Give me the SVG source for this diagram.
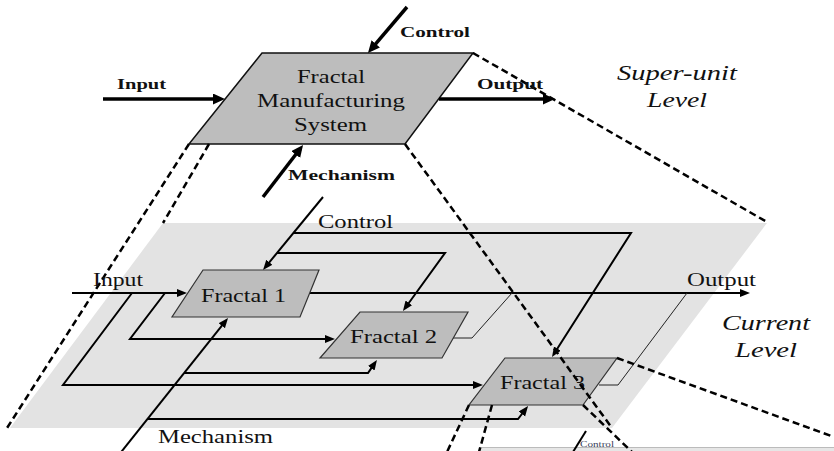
<svg xmlns="http://www.w3.org/2000/svg" width="834" height="451" viewBox="0 0 834 451">
  <defs>
    <style>
      .lbl{font-family:"Liberation Serif","Times New Roman",serif;fill:#111}
      .b{font-weight:bold;font-size:15px}
      .n{font-size:18.5px}
      .i{font-style:italic;font-size:21px}
      .sys{font-size:19px}
      .thick{stroke:#000;stroke-width:3.5;fill:none}
      .flow{stroke:#000;stroke-width:2;fill:none}
      .thin{stroke:#222;stroke-width:1;fill:none}
      .dash{stroke:#000;stroke-width:2.5;fill:none;stroke-dasharray:7 4}
      .node{fill:#bdbdbd;stroke:#333;stroke-width:1.2}
      .plane{fill:#e3e3e3}
    </style>
    <marker id="hb" markerUnits="userSpaceOnUse" markerWidth="14" markerHeight="12" refX="7" refY="5.5" orient="auto">
      <path d="M0,0 L12,5.5 L0,11 z" fill="#000"/>
    </marker>
    <marker id="hs" markerUnits="userSpaceOnUse" markerWidth="12" markerHeight="10" refX="5" refY="4" orient="auto">
      <path d="M0,0 L10,4 L0,8 z" fill="#000"/>
    </marker>
  </defs>

  <rect width="834" height="451" fill="#fff"/>

  <!-- current level plane -->
  <g id="current-level">
    <polygon class="plane" points="163,223 767,223 612,428 10,428"/>
  </g>

  <!-- lower level (partially visible) -->
  <g id="lower-level">
    <rect x="480" y="447" width="354" height="4" fill="#e6e6e6"/>
    <line x1="480" y1="447.5" x2="834" y2="447.5" stroke="#bbb" stroke-width="1"/>
  </g>

  <!-- super-unit node -->
  <g id="fms">
    <polygon class="node" points="262,53 473,53 405,144 189,144" style="stroke:#111;stroke-width:1.5"/>
    <text class="lbl sys" x="297" y="83" textLength="68" lengthAdjust="spacingAndGlyphs">Fractal</text>
    <text class="lbl sys" x="257" y="107" textLength="148" lengthAdjust="spacingAndGlyphs">Manufacturing</text>
    <text class="lbl sys" x="294" y="131" textLength="73" lengthAdjust="spacingAndGlyphs">System</text>
  </g>

  <!-- connectors -->
  <g id="connectors">
    <!-- super-unit level ICOM arrows -->
    <path class="thick" d="M103,99 H220" marker-end="url(#hb)"/>
    <path class="thick" d="M439,99 H550" marker-end="url(#hb)"/>
    <path class="thick" d="M407,7 L371.2,49.2" marker-end="url(#hb)"/>
    <path class="thick" d="M263,197 L300,149" marker-end="url(#hb)"/>

    <!-- current level: control -->
    <path class="flow" d="M323,197 L266.2,266.1" marker-end="url(#hs)"/>
    <path class="flow" d="M293,233 H631 L554.7,352.8" marker-end="url(#hs)"/>
    <path class="flow" d="M277,253 H445 L405.9,307" marker-end="url(#hs)"/>
    <!-- current level: input -->
    <path class="flow" d="M72,293 H182" marker-end="url(#hs)"/>
    <path class="flow" d="M165,293 L130,339 H330" marker-end="url(#hs)"/>
    <path class="flow" d="M132,293 L63,385 H478" marker-end="url(#hs)"/>
    <!-- current level: mechanism -->
    <path class="flow" d="M118,456 L224.9,321.9" marker-end="url(#hs)"/>
    <path class="flow" d="M184,373 H368 L374.1,364.1" marker-end="url(#hs)"/>
    <path class="flow" d="M148,419 H518 L525,410" marker-end="url(#hs)"/>
    <!-- current level: output -->
    <path class="flow" d="M310,293 H745" marker-end="url(#hs)"/>
    <path class="thin" d="M445,338 H472 L512,293"/>
    <path class="thin" d="M599,385 H618 L687,293"/>

    <!-- lower level control stub -->
    <path class="flow" d="M586,431 L573,452"/>
  </g>

  <!-- fractal nodes -->
  <g id="fractal-1">
    <polygon class="node" points="203,270 319,270 300,317 172,317"/>
    <text class="lbl n" x="201" y="302" textLength="85" lengthAdjust="spacingAndGlyphs">Fractal 1</text>
  </g>
  <g id="fractal-2">
    <polygon class="node" points="360,312 468,312 442,358 320,358"/>
    <text class="lbl n" x="350" y="343" textLength="87" lengthAdjust="spacingAndGlyphs">Fractal 2</text>
  </g>
  <g id="fractal-3">
    <polygon class="node" points="505,358 617,358 583,405 469,405"/>
    <text class="lbl n" x="500" y="389" textLength="85" lengthAdjust="spacingAndGlyphs">Fractal 3</text>
  </g>

  <!-- projection lines between levels -->
  <g id="projections">
    <path class="dash" d="M189,144 L7,428"/>
    <path class="dash" d="M209,144 L163,223"/>
    <path class="dash" d="M473,53 L767,222"/>
    <path class="dash" d="M405,144 L612,428"/>
    <path class="dash" d="M617,358 L834,437"/>
    <path class="dash" d="M583,405 L632,452"/>
    <path class="dash" d="M469,405 L447,452"/>
    <path class="dash" d="M492,405 L479,452"/>
  </g>

  <!-- labels -->
  <g id="labels">
    <text class="lbl b" x="117" y="89" textLength="49" lengthAdjust="spacingAndGlyphs">Input</text>
    <text class="lbl b" x="477" y="89" textLength="66" lengthAdjust="spacingAndGlyphs">Output</text>
    <text class="lbl b" x="400" y="37" textLength="70" lengthAdjust="spacingAndGlyphs">Control</text>
    <text class="lbl b" x="288" y="180" textLength="107" lengthAdjust="spacingAndGlyphs">Mechanism</text>
    <text class="lbl i" x="617" y="80" textLength="120" lengthAdjust="spacingAndGlyphs">Super-unit</text>
    <text class="lbl i" x="647" y="107" textLength="60" lengthAdjust="spacingAndGlyphs">Level</text>

    <text class="lbl n" x="318" y="228" textLength="75" lengthAdjust="spacingAndGlyphs">Control</text>
    <text class="lbl n" x="93" y="286" textLength="50" lengthAdjust="spacingAndGlyphs">Input</text>
    <text class="lbl n" x="687" y="286" textLength="69" lengthAdjust="spacingAndGlyphs">Output</text>
    <text class="lbl n" x="158" y="443" textLength="115" lengthAdjust="spacingAndGlyphs">Mechanism</text>
    <text class="lbl i" x="722" y="330" textLength="88" lengthAdjust="spacingAndGlyphs">Current</text>
    <text class="lbl i" x="735" y="357" textLength="62" lengthAdjust="spacingAndGlyphs">Level</text>

    <text class="lbl" x="580" y="447" font-size="8" textLength="34" lengthAdjust="spacingAndGlyphs" style="fill:#3a3f5a">Control</text>
  </g>
</svg>
